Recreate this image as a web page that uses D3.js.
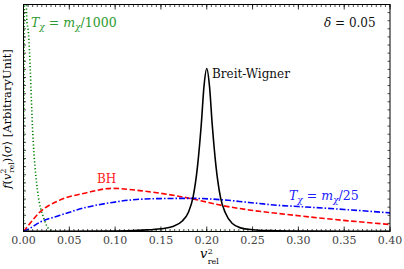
<!DOCTYPE html>
<html>
<head>
<meta charset="utf-8">
<script src="https://cdn.jsdelivr.net/npm/d3@7"></script>
<style>
body { margin: 0; background: #fff; }
</style>
</head>
<body>
<div id="chart"></div>
<script>
// valeurs (v_rel^2 , f * sigma en unite arbitraire)
var bwX   = [0.00, 0.10, 0.13, 0.15, 0.163, 0.173, 0.18, 0.185, 0.19, 0.194, 0.197, 0.2, 0.203, 0.206, 0.21, 0.215, 0.22, 0.228, 0.237, 0.25, 0.27, 0.30, 0.40];
var bwY   = [0.001, 0.002, 0.006, 0.012, 0.022, 0.045, 0.085, 0.15, 0.29, 0.47, 0.64, 0.718, 0.64, 0.47, 0.29, 0.15, 0.085, 0.035, 0.016, 0.008, 0.004, 0.002, 0.001];

var bhX   = [0.00, 0.005, 0.0175, 0.039, 0.068, 0.097, 0.127, 0.15, 0.183, 0.216, 0.246, 0.279, 0.339, 0.40];
var bhY   = [0.00, 0.025, 0.084, 0.137, 0.17, 0.19, 0.18, 0.168, 0.145, 0.115, 0.095, 0.079, 0.053, 0.031];

var t25X  = [0.00, 0.0065, 0.0175, 0.039, 0.068, 0.097, 0.123, 0.15, 0.183, 0.216, 0.246, 0.279, 0.30, 0.35, 0.40];
var t25Y  = [0.00, 0.013, 0.04, 0.07, 0.106, 0.128, 0.141, 0.145, 0.146, 0.14, 0.128, 0.115, 0.11, 0.097, 0.082];

var t1000X = [0.00, 0.0004, 0.0009, 0.002, 0.0035, 0.0055, 0.0073, 0.0098, 0.0115, 0.0153, 0.022, 0.028, 0.035, 0.40];
var t1000Y = [0.00, 0.55, 1.10, 1.30, 0.94, 0.87, 0.72, 0.46, 0.34, 0.18, 0.06, 0.01, 0.00, 0.00];

var xMajor = [0.00, 0.05, 0.10, 0.15, 0.20, 0.25, 0.30, 0.35, 0.40];

// dimensions
var W = 404, H = 269;
var margin = {top: 4.5, right: 14, bottom: 37.5, left: 23.5};
var width = W - margin.left - margin.right,
    height = H - margin.top - margin.bottom;

var svg = d3.select("#chart").append("svg")
    .attr("width", W).attr("height", H)
    .attr("font-family", "DejaVu Serif");

var g = svg.append("g")
    .attr("transform", "translate(" + margin.left + "," + margin.top + ")");

var x = d3.scaleLinear().domain([0, 0.40]).range([0, width]);
var y = d3.scaleLinear().domain([0, 1]).range([height, 0]);

svg.append("clipPath").attr("id", "clip")
    .append("rect").attr("width", width).attr("height", height);

// courbes
function pts(xs, ys) { return xs.map(function (d, i) { return [d, ys[i]]; }); }
var line = d3.line()
    .x(function (d) { return x(d[0]); })
    .y(function (d) { return y(d[1]); })
    .curve(d3.curveMonotoneX);

var plot = g.append("g").attr("clip-path", "url(#clip)");

plot.append("path").datum(pts(t1000X, t1000Y))
    .attr("d", line).attr("fill", "none")
    .attr("stroke", "#008000").attr("stroke-width", 1.6)
    .attr("stroke-dasharray", "1.2,2.2");

plot.append("path").datum(pts(bhX, bhY))
    .attr("d", line).attr("fill", "none")
    .attr("stroke", "#ff0000").attr("stroke-width", 1.6)
    .attr("stroke-dasharray", "5.5,2.5");

plot.append("path").datum(pts(t25X, t25Y))
    .attr("d", line).attr("fill", "none")
    .attr("stroke", "#0000ff").attr("stroke-width", 1.6)
    .attr("stroke-dasharray", "6,2,1.5,2");

plot.append("path").datum(pts(bwX, bwY))
    .attr("d", line).attr("fill", "none")
    .attr("stroke", "#000").attr("stroke-width", 1.6);

// axes (ticks vers l'interieur sur les 4 cotes)
var xMinor = d3.range(0, 0.4001, 0.005);
var yMinor = d3.range(0, 1.001, 1 / 28);

function ticksX(sel, ypos, dir) {
    sel.selectAll(null).data(xMinor).enter().append("line")
        .attr("x1", function (d) { return x(d); }).attr("x2", function (d) { return x(d); })
        .attr("y1", ypos).attr("y2", ypos + dir * 2.5)
        .attr("stroke", "#000").attr("stroke-width", 0.7);
    sel.selectAll(null).data(xMajor).enter().append("line")
        .attr("x1", function (d) { return x(d); }).attr("x2", function (d) { return x(d); })
        .attr("y1", ypos).attr("y2", ypos + dir * 5)
        .attr("stroke", "#000").attr("stroke-width", 0.8);
}
function ticksY(sel, xpos, dir) {
    sel.selectAll(null).data(yMinor).enter().append("line")
        .attr("y1", function (d) { return y(d); }).attr("y2", function (d) { return y(d); })
        .attr("x1", xpos).attr("x2", xpos + dir * 2.5)
        .attr("stroke", "#000").attr("stroke-width", 0.7);
}
var axes = g.append("g");
ticksX(axes, height, -1);
ticksX(axes, 0, 1);
ticksY(axes, 0, 1);
ticksY(axes, width, -1);

axes.append("rect")
    .attr("width", width).attr("height", height)
    .attr("fill", "none").attr("stroke", "#000").attr("stroke-width", 1);

// labels de l'axe X
g.selectAll(".xlab").data(xMajor).enter().append("text")
    .attr("class", "xlab")
    .attr("x", function (d) { return x(d); })
    .attr("y", height + 12.5)
    .attr("text-anchor", "middle")
    .style("font-size", "11px")
    .attr("fill", "#444")
    .text(function (d) { return d.toFixed(2); });

// titre axe X : v, exposant 2 et indice rel en textes separes
var cx = margin.left + width / 2;
svg.append("text").attr("x", cx - 3).attr("y", 258)
    .attr("text-anchor", "middle").style("font-size", "13px").style("font-style", "italic").text("v");
svg.append("text").attr("x", cx + 1).attr("y", 253.5)
    .style("font-size", "8px").text("2");
svg.append("text").attr("x", cx + 1).attr("y", 263.5)
    .style("font-size", "8px").text("rel");

// titre axe Y
var yt = svg.append("text")
    .attr("transform", "translate(11,119) rotate(-90)")
    .attr("text-anchor", "middle")
    .style("font-size", "11.5px");
yt.append("tspan").style("font-style", "italic").text("f");
yt.append("tspan").text("(");
yt.append("tspan").style("font-style", "italic").text("v");
yt.append("tspan").attr("dy", -5).style("font-size", "7.5px").text("2");
yt.append("tspan").attr("dy", 8).attr("dx", -4).style("font-size", "7.5px").text("rel");
yt.append("tspan").attr("dy", -3).text(")\u27E8");
yt.append("tspan").style("font-style", "italic").text("\u03C3");
yt.append("tspan").text("\u27E9 [ArbitraryUnit]");

// annotations
function label(xp, yp, color, size) {
    return svg.append("text").attr("x", xp).attr("y", yp)
        .attr("fill", color).style("font-size", (size || 12) + "px");
}
function tLabel(xp, yp, color, den) {
    var t = label(xp, yp, color, 12.5);
    t.append("tspan").style("font-style", "italic").text("T");
    t.append("tspan").attr("dy", 3).style("font-size", "9px").style("font-style", "italic").text("\u03C7");
    t.append("tspan").attr("dy", -3).text(" = ");
    t.append("tspan").style("font-style", "italic").text("m");
    t.append("tspan").attr("dy", 3).style("font-size", "9px").style("font-style", "italic").text("\u03C7");
    t.append("tspan").attr("dy", -3).text("/" + den);
}
tLabel(31, 27, "#2e9a2e", "1000");
tLabel(289, 200, "#2020ff", "25");

var d = label(324, 27, "#111");
d.append("tspan").style("font-style", "italic").text("\u03B4");
d.append("tspan").text(" = 0.05");

label(212, 78, "#111").text("Breit-Wigner");
label(97, 183, "#ff2020").text("BH");
</script>
</body>
</html>
